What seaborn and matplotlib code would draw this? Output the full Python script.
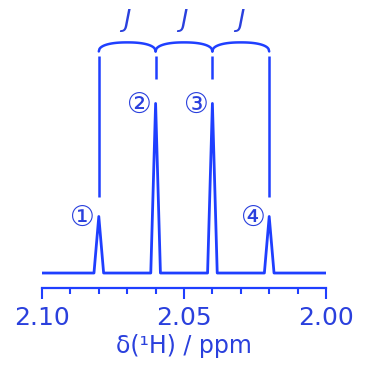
import numpy as np
import pandas as pd
import seaborn as sns
import matplotlib.pyplot as plt

# spectrum points (ppm, intensity)
shift = [2.100, 2.0817, 2.0800, 2.0783, 2.0617, 2.0600, 2.0583,
         2.0417, 2.0400, 2.0383, 2.0217, 2.0200, 2.0183, 2.000]
intensity = [0, 0, 1, 0, 0, 3, 0, 0, 3, 0, 0, 1, 0, 0]

peaks = [2.08, 2.06, 2.04, 2.02]
heights = [1, 3, 3, 1]
peak_labels = ['①', '②', '③', '④']
xticks_major = [2.10, 2.05, 2.00]
xtick_labels = ['2.10', '2.05', '2.00']

line_c = '#1f3fff'
text_c = '#2a40dd'

sns.set_style('white')
plt.rcParams['font.family'] = ['DejaVu Sans', 'Noto Sans CJK JP']

fig = plt.figure(figsize=(3.7, 3.65), dpi=100)
ax = fig.add_axes([42/370, 77/365, 284/370, 288/365])

df = pd.DataFrame({'shift': shift, 'intensity': intensity})
sns.lineplot(data=df, x='shift', y='intensity', ax=ax, color=line_c,
             lw=2.0, estimator=None, sort=False)

ax.set_xlim(2.10, 2.00)
ax.set_ylim(-0.265, 4.83)

# bracket lines above the peaks
top = 3.84
for p, h in zip(peaks, heights):
    low = 1.345 if h == 1 else 3.43
    ax.plot([p, p], [low, top], color=line_c, lw=1.8, solid_capstyle='butt')

# rounded braces between neighbours + J labels
for a, b in zip(peaks[:-1], peaks[1:]):
    t = np.linspace(0, 1, 80)
    u = np.abs(2*t - 1)
    ax.plot(a + (b - a)*t, 3.92 + 0.16*(1 - u**2.3)**(1/2.3), color=line_c, lw=1.8)
    ax.text((a + b)/2, 4.47, 'J', style='italic', fontsize=18, color=text_c,
            ha='center', va='center')

for p, h, lab in zip(peaks, heights, peak_labels):
    ax.text(p + 0.0057, h - 0.02, lab, fontsize=20, color=text_c,
            ha='center', va='center', family=['DejaVu Sans', 'Noto Sans CJK JP'])

for s in ['top', 'right', 'left']:
    ax.spines[s].set_visible(False)
ax.spines['bottom'].set_color(line_c)
ax.spines['bottom'].set_linewidth(1.6)
ax.set_yticks([])
ax.set_xticks(xticks_major)
ax.set_xticklabels(xtick_labels)
ax.set_xticks(np.arange(2.00, 2.1001, 0.01), minor=True)
ax.tick_params(axis='x', which='major', direction='out', length=8, width=1.5,
               color=line_c, labelcolor=text_c, labelsize=18, pad=5, bottom=True)
ax.tick_params(axis='x', which='minor', direction='out', length=4.5, width=1.5,
               color=line_c, bottom=True)
ax.set_xlabel('δ(¹H) / ppm', fontsize=17, color=text_c, labelpad=3)
ax.set_ylabel('')

fig.savefig('out.png', dpi=100)
